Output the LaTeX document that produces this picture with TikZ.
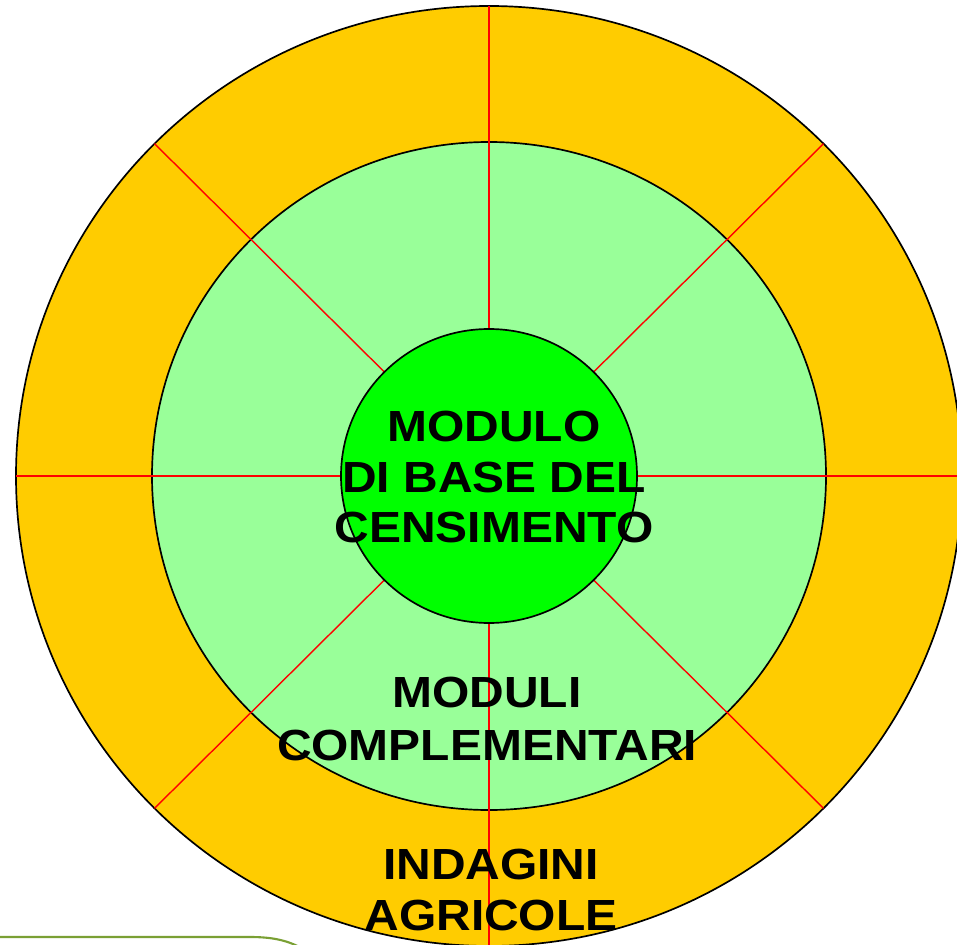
\documentclass[tikz,border=0pt]{standalone}
\usepackage{fontspec}
\setmainfont{Liberation Sans}
\newfontfamily\capfont[FakeStretch=1.1]{Liberation Sans}
\usetikzlibrary{calc}
\definecolor{outerring}{HTML}{FFCC00}
\definecolor{middlering}{HTML}{99FF99}
\definecolor{corecircle}{HTML}{00FF00}
\definecolor{bandgreen}{RGB}{122,160,52}

\begin{document}
\begin{tikzpicture}[
    x=0.025cm, y=-0.025cm,
    ring/.style={draw=black, line width=1.2pt},
    spoke/.style={draw=red, line width=1pt},
    caption/.style={font=\capfont\bfseries\fontsize{31}{36}\selectfont, align=center, inner sep=0pt}
]
\useasboundingbox (0,0) rectangle (957,944);
\fill[white] (0,0) rectangle (957,944);
\clip (0,0) rectangle (957,944);

\coordinate (c) at (489,476);

% rings
\draw[ring, fill=outerring] (c) ellipse [x radius=473, y radius=470];
\draw[ring, fill=middlering] (c) ellipse [x radius=337, y radius=334];
\foreach \a in {0,45,...,315}
    \draw[spoke] (c) -- ($(c)+(\a:473 and 470)$);
\draw[ring, fill=corecircle] (c) ellipse [x radius=148, y radius=147];

\node[caption] (base) at (494,477) {MODULO\\DI BASE DEL\\CENSIMENTO};
\node[caption, font=\capfont\bfseries\fontsize{31}{38}\selectfont] (compl) at (487,719) {MODULI\\COMPLEMENTARI};
\node[caption] (indag) at (491,890) {INDAGINI\\AGRICOLE};

% band at the lower left
\draw[bandgreen, line width=1.5pt] (-5,937) -- (250,937) .. controls (272,937) and (288,940) .. (305,950);
\end{tikzpicture}
\end{document}
